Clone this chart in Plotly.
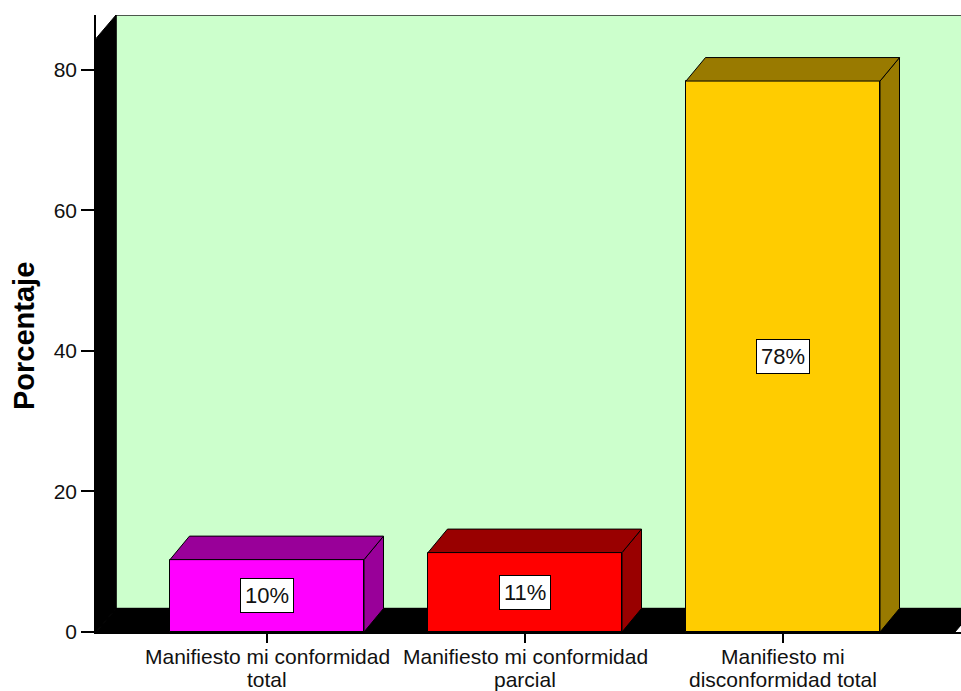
import plotly.graph_objects as go

# ---- data ----
categories = ["Manifiesto mi conformidad total",
              "Manifiesto mi conformidad parcial",
              "Manifiesto mi disconformidad total"]
label_lines = [["Manifiesto mi conformidad", "total"],
               ["Manifiesto mi conformidad", "parcial"],
               ["Manifiesto mi", "disconformidad total"]]
values = [10.3, 11.3, 78.4]
bar_labels = ["10%", "11%", "78%"]
y_ticks = [0, 20, 40, 60, 80]
front_colors = ["#FF00FF", "#FF0000", "#FFCC00"]
dark_colors = ["#990099", "#990000", "#997A00"]

# ---- geometry (pixel-derived constants) ----
W, H = 961, 691
m_l, m_r, m_t, m_b = 96, 0, 15, 59
plot_w = W - m_l - m_r
plot_h = H - m_t - m_b
y_max = 87.8
px_per_y = plot_h / y_max
px_per_x = 258.0
x0 = -(267 - m_l) / px_per_x
x1 = x0 + plot_w / px_per_x
dx_wall = 20 / px_per_x
dy_wall = 23.5 / px_per_y
dx_bar = 19.5 / px_per_x
dy_bar = 23.5 / px_per_y
bar_w = 0.752
x_floor_end = (955 - 267) / px_per_x

xs = list(range(len(categories)))

fig = go.Figure()

# front faces
fig.add_trace(go.Bar(
    x=xs, y=values, width=bar_w,
    marker=dict(color=front_colors, line=dict(color="black", width=1)),
    hoverinfo="skip", showlegend=False))

# top and side faces
for i, v in enumerate(values):
    l = xs[i] - bar_w / 2
    r = xs[i] + bar_w / 2
    fig.add_trace(go.Scatter(
        x=[r, r + dx_bar, r + dx_bar, r, r],
        y=[0, dy_bar, v + dy_bar, v, 0],
        mode="lines", fill="toself", fillcolor=dark_colors[i],
        line=dict(color="black", width=1), hoverinfo="skip", showlegend=False))
    fig.add_trace(go.Scatter(
        x=[l, l + dx_bar, r + dx_bar, r, l],
        y=[v, v + dy_bar, v + dy_bar, v, v],
        mode="lines", fill="toself", fillcolor=dark_colors[i],
        line=dict(color="black", width=1), hoverinfo="skip", showlegend=False))

shapes = []
shapes.append(dict(type="rect", xref="x", yref="y", layer="below",
                   x0=x0 + dx_wall, x1=x1 + 0.2, y0=dy_wall, y1=y_max,
                   fillcolor="#CCFFCC", line=dict(color="#222222", width=1.5)))
shapes.append(dict(type="path", xref="x", yref="y", layer="below",
                   path=f"M{x0},0 L{x0},{y_max - dy_wall} L{x0 + dx_wall},{y_max} L{x0 + dx_wall},{dy_wall} Z",
                   fillcolor="black", line=dict(color="black", width=1)))
shapes.append(dict(type="path", xref="x", yref="y", layer="below",
                   path=f"M{x0},0 L{x_floor_end},0 L{x_floor_end + dx_wall},{dy_wall} L{x0 + dx_wall},{dy_wall} Z",
                   fillcolor="black", line=dict(color="black", width=1)))

annotations = []
fnt = "Arial, Liberation Sans, sans-serif"
for i, v in enumerate(values):
    annotations.append(dict(x=xs[i], y=v / 2, xref="x", yref="y", text=bar_labels[i],
                            showarrow=False, bgcolor="white", bordercolor="black",
                            borderwidth=1, borderpad=4,
                            font=dict(family=fnt, size=22, color="#111111")))
    for j, line in enumerate(label_lines[i]):
        annotations.append(dict(x=xs[i], y=0, xref="x", yref="paper", text=line,
                                showarrow=False, yanchor="middle",
                                borderpad=0, yshift=-24 - 23 * j,
                                font=dict(family=fnt, size=21, color="#111111")))

annotations.append(dict(x=0, y=(632 - 336) / plot_h, xref="paper", yref="paper",
                        text="<b>Porcentaje</b>", textangle=-90, showarrow=False,
                        xanchor="center", yanchor="middle", xshift=24 - m_l,
                        font=dict(family=fnt, size=29, color="black")))

fig.update_layout(
    width=W, height=H,
    margin=dict(l=m_l, r=m_r, t=m_t, b=m_b, pad=0),
    paper_bgcolor="white", plot_bgcolor="white",
    shapes=shapes, annotations=annotations, bargap=0,
    showlegend=False,
    font=dict(family=fnt, size=22, color="#111111"),
    xaxis=dict(range=[x0, x1], tickvals=xs, showticklabels=False,
               ticks="outside", ticklen=9, tickcolor="black", tickwidth=1.5,
               showline=True, linecolor="black", linewidth=1.5,
               showgrid=False, zeroline=False, fixedrange=True),
    yaxis=dict(range=[0, y_max], tickvals=y_ticks, ticks="outside", ticklen=13,
               tickcolor="black", tickwidth=1.5, showline=True, linecolor="black",
               linewidth=1.5, showgrid=False, zeroline=False, fixedrange=True,
               tickfont=dict(family=fnt, size=21, color="#111111")),
)

fig.write_html("out.html", config={"displayModeBar": False},
               post_script="document.body.style.margin='0';document.body.style.overflow='hidden';")
